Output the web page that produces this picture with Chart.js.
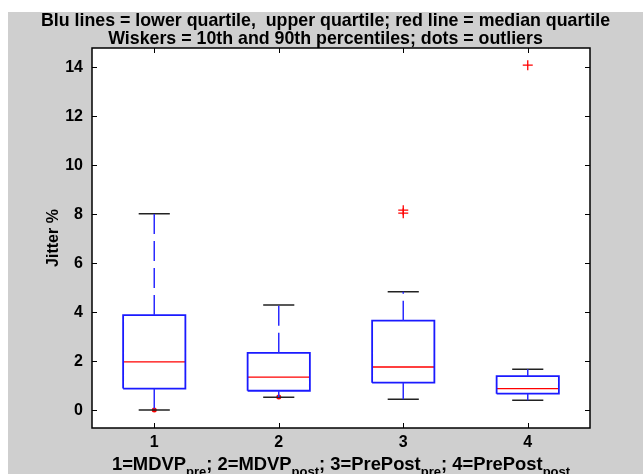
<!DOCTYPE html>
<html>
<head>
<meta charset="utf-8">
<script src="https://cdn.jsdelivr.net/npm/chart.js@4/dist/chart.umd.min.js"></script>
<style>
    html, body { margin: 0; padding: 0; background: #ffffff; }
    #figure {
        position: absolute;
        left: 8px;
        top: 12px;
        width: 635px;
        height: 462px;
        background: #cfcfcf;
    }
</style>
</head>
<body>
<div id="figure"><canvas id="canvas" width="635" height="462"></canvas></div>
<script>
    // box plot values (Jitter %)
    const groups = ['1', '2', '3', '4'];
    const lowerQuartile = [0.88, 0.79, 1.12, 0.67];
    const upperQuartile = [3.88, 2.34, 3.65, 1.39];
    const medians = [1.97, 1.35, 1.76, 0.88];
    const whiskerLow = [0.00, 0.53, 0.44, 0.40];
    const whiskerHigh = [8.01, 4.29, 4.83, 1.67];
    const dotOutliers = [[0.00], [0.54], [], []];
    const crossOutliers = [[], [], [8.04, 8.16], [14.08]];

    const yTicks = [0, 2, 4, 6, 8, 10, 12, 14];
    const titleLines = [
        'Blu lines = lower quartile,  upper quartile; red line = median quartile',
        'Wiskers = 10th and 90th percentiles; dots = outliers'
    ];
    const yTitle = 'Jitter %';
    // [text, isSubscript]
    const xLabelParts = [
        ['1=MDVP', false], ['pre', true],
        ['; 2=MDVP', false], ['post', true],
        ['; 3=PrePost', false], ['pre', true],
        ['; 4=PrePost', false], ['post', true]
    ];

    const boxHalf = 0.25,
        capHalf = 0.125,
        fontFamily = '"Liberation Sans", Arial, sans-serif';

    const ctx = document.getElementById('canvas').getContext('2d');

    // line segments, separated by null points so they do not join
    const gap = (x) => ({ x: x, y: null });

    const boxPoints = [];
    const medianPoints = [];
    const whiskerPoints = [];
    const capPoints = [];
    const dotPoints = [];
    const crossPoints = [];

    groups.forEach((g, i) => {
        const x = i + 1;
        boxPoints.push(
            { x: x - boxHalf, y: lowerQuartile[i] },
            { x: x + boxHalf, y: lowerQuartile[i] },
            { x: x + boxHalf, y: upperQuartile[i] },
            { x: x - boxHalf, y: upperQuartile[i] },
            { x: x - boxHalf, y: lowerQuartile[i] },
            gap(x)
        );
        medianPoints.push({ x: x - boxHalf, y: medians[i] }, { x: x + boxHalf, y: medians[i] }, gap(x));
        // whiskers go out from the box so the dashes start at the box edge
        whiskerPoints.push(
            { x: x, y: upperQuartile[i] }, { x: x, y: whiskerHigh[i] }, gap(x),
            { x: x, y: lowerQuartile[i] }, { x: x, y: whiskerLow[i] }, gap(x)
        );
        capPoints.push(
            { x: x - capHalf, y: whiskerHigh[i] }, { x: x + capHalf, y: whiskerHigh[i] }, gap(x),
            { x: x - capHalf, y: whiskerLow[i] }, { x: x + capHalf, y: whiskerLow[i] }, gap(x)
        );
        dotOutliers[i].forEach((v) => dotPoints.push({ x: x, y: v }));
        crossOutliers[i].forEach((v) => crossPoints.push({ x: x, y: v }));
    });

    const segmentSet = (data, color, width, dash) => ({
        data: data,
        showLine: true,
        spanGaps: false,
        borderColor: color,
        borderWidth: width,
        borderDash: dash || [],
        pointRadius: 0,
        fill: false
    });

    // white plot area, frame, inward ticks and the subscripted x label
    const matlabAxes = {
        id: 'matlabAxes',
        beforeDraw: (chart) => {
            const a = chart.chartArea;
            chart.ctx.save();
            chart.ctx.fillStyle = '#ffffff';
            chart.ctx.fillRect(a.left, a.top, a.right - a.left, a.bottom - a.top);
            chart.ctx.restore();
        },
        afterDraw: (chart) => {
            const c = chart.ctx,
                a = chart.chartArea,
                xs = chart.scales.x,
                ys = chart.scales.y,
                tick = 5;
            c.save();
            c.strokeStyle = '#000000';
            c.lineWidth = 1;
            c.beginPath();
            ys.ticks.forEach((t) => {
                const py = Math.round(ys.getPixelForValue(t.value)) + 0.5;
                c.moveTo(a.left, py); c.lineTo(a.left + tick, py);
                c.moveTo(a.right, py); c.lineTo(a.right - tick, py);
            });
            xs.ticks.forEach((t) => {
                const px = Math.round(xs.getPixelForValue(t.value)) + 0.5;
                c.moveTo(px, a.top); c.lineTo(px, a.top + tick);
                c.moveTo(px, a.bottom); c.lineTo(px, a.bottom - tick);
            });
            c.stroke();
            c.lineWidth = 1.5;
            c.strokeRect(a.left, a.top, a.right - a.left, a.bottom - a.top);

            // x label with subscripts
            const mainFont = 'bold 18.4px ' + fontFamily,
                subFont = 'bold 13px ' + fontFamily;
            let total = 0;
            xLabelParts.forEach(([txt, sub]) => {
                c.font = sub ? subFont : mainFont;
                total += c.measureText(txt).width;
            });
            let px = (a.left + a.right) / 2 - total / 2;
            const base = a.bottom + 42;
            c.fillStyle = '#000000';
            c.textBaseline = 'alphabetic';
            c.textAlign = 'left';
            xLabelParts.forEach(([txt, sub]) => {
                c.font = sub ? subFont : mainFont;
                c.fillText(txt, px, sub ? base + 6 : base);
                px += c.measureText(txt).width;
            });
            c.restore();
        }
    };

    const chart = new Chart(ctx, {
        type: 'scatter',
        data: {
            datasets: [
                segmentSet(whiskerPoints, '#2b2bff', 1.5, [20, 7]),
                segmentSet(capPoints, '#222222', 1.5),
                segmentSet(boxPoints, '#1a1aff', 1.8),
                segmentSet(medianPoints, '#ff0000', 1.3),
                {
                    data: dotPoints,
                    showLine: false,
                    pointStyle: 'circle',
                    pointRadius: 2.5,
                    pointBackgroundColor: '#ff0000',
                    pointBorderColor: '#ff0000',
                    pointBorderWidth: 0
                },
                {
                    data: crossPoints,
                    showLine: false,
                    pointStyle: 'cross',
                    pointRadius: 5,
                    pointBorderColor: '#ff0000',
                    pointBorderWidth: 1.3
                }
            ]
        },
        options: {
            responsive: false,
            animation: false,
            events: [],
            layout: {
                padding: 0
            },
            plugins: {
                legend: { display: false },
                tooltip: { enabled: false },
                title: {
                    display: true,
                    text: titleLines,
                    color: '#000000',
                    font: { family: fontFamily, size: 17.8, weight: 'bold', lineHeight: '18px' },
                    padding: { top: 0, bottom: 0 }
                }
            },
            scales: {
                x: {
                    type: 'linear',
                    min: 0.5,
                    max: 4.5,
                    afterBuildTicks: (scale) => {
                        scale.ticks = groups.map((g, i) => ({ value: i + 1 }));
                    },
                    afterFit: (scale) => { scale.height = 46; },
                    grid: { display: false, drawTicks: false },
                    border: { display: false },
                    ticks: {
                        color: '#000000',
                        font: { family: fontFamily, size: 16, weight: 'bold' },
                        padding: 5,
                        maxRotation: 0,
                        callback: (v, i) => groups[i]
                    }
                },
                y: {
                    type: 'linear',
                    min: -0.73,
                    max: 14.78,
                    afterBuildTicks: (scale) => {
                        scale.ticks = yTicks.map((v) => ({ value: v }));
                    },
                    afterFit: (scale) => { scale.width = 84; },
                    grid: { display: false, drawTicks: false },
                    border: { display: false },
                    ticks: {
                        color: '#000000',
                        font: { family: fontFamily, size: 16, weight: 'bold' },
                        padding: 9,
                        callback: (v) => String(v)
                    },
                    title: {
                        display: true,
                        text: yTitle,
                        color: '#000000',
                        font: { family: fontFamily, size: 16, weight: 'bold' },
                        padding: { top: 36, bottom: 0 }
                    }
                },
                // empty right-hand axis: keeps the grey margin on the right
                yRight: {
                    type: 'linear',
                    position: 'right',
                    min: -0.73,
                    max: 14.78,
                    afterFit: (scale) => { scale.width = 53; },
                    grid: { display: false, drawTicks: false },
                    border: { display: false },
                    ticks: { display: false }
                }
            }
        },
        plugins: [matlabAxes]
    });
</script>
</body>
</html>
